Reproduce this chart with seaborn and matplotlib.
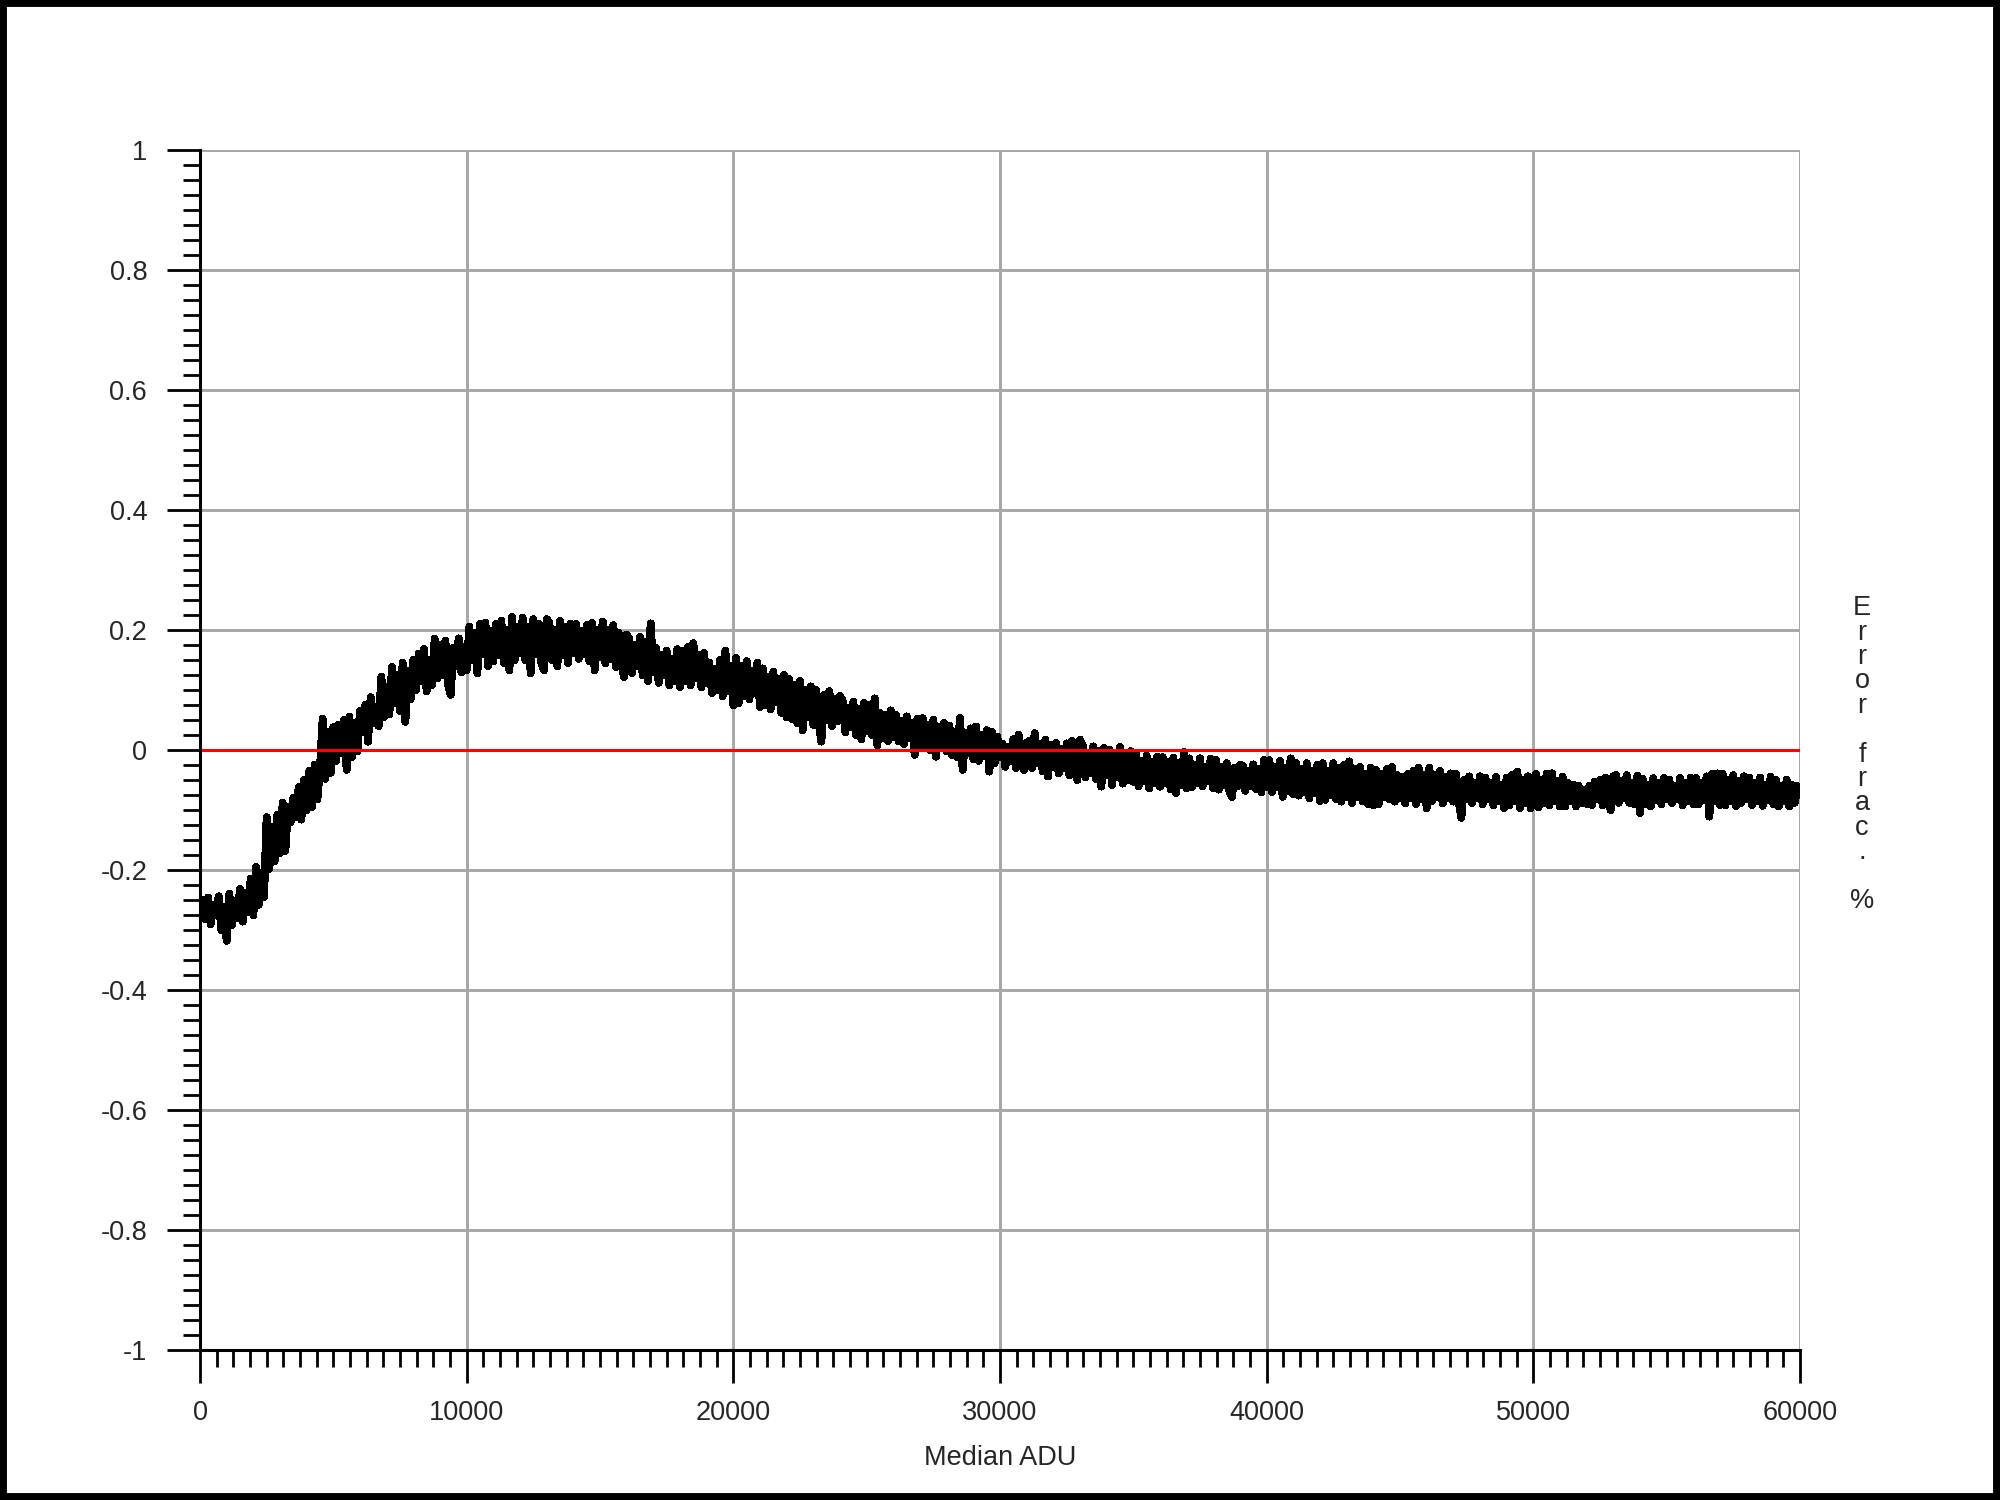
import numpy as np
import pandas as pd
import matplotlib
matplotlib.use("Agg")
import matplotlib.pyplot as plt
import seaborn as sns
from matplotlib.patches import Rectangle
from matplotlib.ticker import MultipleLocator, FixedLocator, FixedFormatter

# --- data (one row = 1000 ADU, samples every 100 ADU) ---
adu_start, adu_step = 100, 100
error_pct = [
    -0.250, -0.282, -0.246, -0.290, -0.258, -0.275, -0.244, -0.300, -0.262, -0.318,
    -0.240, -0.292, -0.252, -0.280, -0.232, -0.286, -0.238, -0.270, -0.215, -0.275,
    -0.195, -0.258, -0.205, -0.245, -0.112, -0.198, -0.128, -0.185, -0.108, -0.172,
    -0.088, -0.168, -0.095, -0.120, -0.080, -0.112, -0.062, -0.116, -0.050, -0.100,
    -0.035, -0.095, -0.025, -0.082, -0.030, 0.052, -0.048, 0.030, -0.038, 0.038,
    -0.018, 0.042, -0.005, 0.050, -0.033, 0.055, -0.012, 0.045, -0.002, 0.065,
    0.030, 0.075, 0.014, 0.088, 0.045, 0.072, 0.040, 0.122, 0.055, 0.105,
    0.060, 0.138, 0.078, 0.125, 0.065, 0.145, 0.047, 0.132, 0.085, 0.150,
    0.100, 0.160, 0.115, 0.168, 0.098, 0.150, 0.108, 0.185, 0.120, 0.175,
    0.125, 0.182, 0.110, 0.092, 0.170, 0.140, 0.186, 0.130, 0.172, 0.133,
    0.205, 0.150, 0.195, 0.128, 0.210, 0.160, 0.212, 0.140, 0.198, 0.148,
    0.210, 0.158, 0.215, 0.145, 0.200, 0.133, 0.222, 0.150, 0.205, 0.162,
    0.220, 0.150, 0.205, 0.128, 0.218, 0.160, 0.210, 0.145, 0.133, 0.218,
    0.212, 0.150, 0.200, 0.140, 0.215, 0.158, 0.205, 0.145, 0.210, 0.162,
    0.210, 0.152, 0.198, 0.160, 0.208, 0.148, 0.212, 0.133, 0.200, 0.155,
    0.214, 0.145, 0.200, 0.152, 0.208, 0.138, 0.195, 0.148, 0.122, 0.192,
    0.185, 0.128, 0.175, 0.140, 0.188, 0.125, 0.180, 0.115, 0.211, 0.130,
    0.170, 0.112, 0.158, 0.125, 0.165, 0.108, 0.152, 0.115, 0.168, 0.105,
    0.165, 0.115, 0.172, 0.108, 0.178, 0.120, 0.158, 0.105, 0.162, 0.112,
    0.145, 0.095, 0.135, 0.100, 0.150, 0.090, 0.165, 0.098, 0.140, 0.075,
    0.153, 0.078, 0.140, 0.090, 0.148, 0.085, 0.132, 0.095, 0.145, 0.072,
    0.136, 0.075, 0.122, 0.068, 0.130, 0.080, 0.118, 0.062, 0.125, 0.055,
    0.118, 0.052, 0.108, 0.045, 0.115, 0.033, 0.100, 0.055, 0.106, 0.042,
    0.100, 0.045, 0.014, 0.092, 0.050, 0.098, 0.040, 0.085, 0.048, 0.090,
    0.082, 0.030, 0.070, 0.038, 0.080, 0.025, 0.068, 0.018, 0.078, 0.032,
    0.075, 0.025, 0.086, 0.008, 0.062, 0.020, 0.058, 0.015, 0.066, 0.022,
    0.058, 0.015, 0.048, 0.010, 0.056, 0.020, 0.045, -0.008, 0.052, 0.008,
    0.053, 0.005, 0.042, 0.000, 0.050, -0.011, 0.038, 0.008, 0.045, -0.002,
    0.040, -0.008, 0.030, -0.012, 0.053, -0.033, 0.028, -0.005, 0.036, -0.015,
    0.039, -0.018, 0.025, -0.010, 0.033, -0.036, 0.030, -0.022, 0.022, -0.012,
    0.010, -0.028, 0.005, -0.018, 0.018, -0.030, 0.025, -0.020, -0.033, 0.012,
    0.015, -0.030, 0.028, -0.022, 0.010, -0.035, 0.017, -0.044, 0.008, -0.028,
    0.012, -0.039, 0.002, -0.030, 0.011, -0.042, 0.015, -0.032, -0.050, 0.017,
    0.008, -0.045, -0.005, -0.038, 0.006, -0.048, -0.002, -0.061, 0.003, -0.042,
    0.000, -0.058, -0.008, -0.045, 0.005, -0.056, -0.010, -0.050, -0.002, -0.053,
    -0.006, -0.060, -0.018, -0.052, -0.010, -0.064, -0.020, -0.055, -0.011, -0.061,
    -0.012, -0.055, -0.020, -0.065, -0.013, -0.072, -0.022, -0.058, -0.003, -0.064,
    -0.014, -0.062, -0.025, -0.055, -0.014, -0.060, -0.028, -0.052, -0.015, -0.064,
    -0.017, -0.066, -0.028, -0.058, -0.022, -0.068, -0.078, -0.030, -0.060, -0.025,
    -0.026, -0.068, -0.035, -0.060, -0.024, -0.065, -0.032, -0.070, -0.017, -0.062,
    -0.017, -0.070, -0.028, -0.062, -0.018, -0.078, -0.030, -0.068, -0.014, -0.074,
    -0.022, -0.076, -0.032, -0.070, -0.022, -0.080, -0.035, -0.072, -0.025, -0.085,
    -0.022, -0.083, -0.035, -0.075, -0.022, -0.082, -0.030, -0.086, -0.025, -0.078,
    -0.019, -0.088, -0.032, -0.078, -0.028, -0.085, -0.040, -0.090, -0.030, -0.092,
    -0.033, -0.090, -0.040, -0.078, -0.032, -0.082, -0.028, -0.086, -0.042, -0.080,
    -0.045, -0.089, -0.040, -0.080, -0.035, -0.090, -0.030, -0.082, -0.042, -0.097,
    -0.030, -0.085, -0.042, -0.078, -0.035, -0.089, -0.045, -0.080, -0.039, -0.086,
    -0.040, -0.085, -0.113, -0.050, -0.082, -0.044, -0.088, -0.055, -0.080, -0.044,
    -0.090, -0.046, -0.082, -0.055, -0.092, -0.045, -0.085, -0.058, -0.097, -0.046,
    -0.092, -0.042, -0.085, -0.036, -0.097, -0.050, -0.088, -0.044, -0.097, -0.055,
    -0.040, -0.095, -0.050, -0.088, -0.040, -0.092, -0.039, -0.085, -0.052, -0.094,
    -0.045, -0.094, -0.055, -0.085, -0.058, -0.094, -0.060, -0.088, -0.066, -0.090,
    -0.060, -0.092, -0.053, -0.082, -0.050, -0.092, -0.046, -0.085, -0.100, -0.044,
    -0.042, -0.088, -0.052, -0.080, -0.042, -0.088, -0.055, -0.090, -0.043, -0.105,
    -0.048, -0.090, -0.058, -0.094, -0.047, -0.084, -0.055, -0.090, -0.047, -0.082,
    -0.050, -0.088, -0.060, -0.082, -0.047, -0.092, -0.055, -0.085, -0.046, -0.090,
    -0.047, -0.090, -0.055, -0.084, -0.044, -0.111, -0.040, -0.085, -0.039, -0.092,
    -0.040, -0.092, -0.050, -0.085, -0.042, -0.093, -0.052, -0.088, -0.044, -0.082,
    -0.046, -0.092, -0.055, -0.085, -0.046, -0.093, -0.058, -0.084, -0.045, -0.090,
    -0.050, -0.094, -0.060, -0.085, -0.050, -0.094, -0.058, -0.088, -0.060, -0.075,
]
median_adu = np.arange(adu_start, adu_start + adu_step * len(error_pct), adu_step)

y_ticks = [-1, -0.8, -0.6, -0.4, -0.2, 0, 0.2, 0.4, 0.6, 0.8, 1]
y_tick_labels = ["-1", "-0.8", "-0.6", "-0.4", "-0.2", "0", "0.2", "0.4", "0.6", "0.8", "1"]
x_ticks = [0, 10000, 20000, 30000, 40000, 50000, 60000]
x_tick_labels = ["0", "10000", "20000", "30000", "40000", "50000", "60000"]

df = pd.DataFrame({"Median ADU": median_adu, "Error": error_pct})

# --- style ---
sns.set_style("white")
plt.rcParams["font.family"] = ["Liberation Sans", "DejaVu Sans"]
plt.rcParams["axes.unicode_minus"] = False

fig = plt.figure(figsize=(20, 15), dpi=100)
ax = fig.add_axes([0.1, 0.1, 0.8, 0.8])

# grid
ax.set_axisbelow(True)
ax.grid(True, which="major", color="#a8a8a8", lw=2.0, antialiased=False)

sns.lineplot(data=df, x="Median ADU", y="Error", ax=ax, color="black", lw=5.0,
             estimator=None, sort=False, zorder=3, antialiased=False)
for ln in ax.get_lines():
    ln.set_solid_capstyle("round")
    ln.set_solid_joinstyle("round")

ax.axhline(0, color="#ff0000", lw=2.0, zorder=4, antialiased=False)

ax.set_xlim(0, 60000)
ax.set_ylim(-1, 1)
ax.xaxis.set_major_locator(FixedLocator(x_ticks))
ax.xaxis.set_major_formatter(FixedFormatter(x_tick_labels))
ax.yaxis.set_major_locator(FixedLocator(y_ticks))
ax.yaxis.set_major_formatter(FixedFormatter(y_tick_labels))
ax.xaxis.set_minor_locator(MultipleLocator(625))
ax.yaxis.set_minor_locator(MultipleLocator(0.025))

for side in ["top", "right"]:
    ax.spines[side].set_visible(False)
for side in ["left", "bottom"]:
    ax.spines[side].set_color("black")
    ax.spines[side].set_linewidth(2.2)
    ax.spines[side].set_zorder(5)

ax.tick_params(which="both", direction="out", bottom=True, left=True,
               color="black", width=2.0)
ax.tick_params(which="major", length=24, labelsize=19.5)
ax.tick_params(axis="y", which="major", pad=14)
ax.tick_params(axis="x", which="major", pad=12)
ax.tick_params(which="minor", length=12)

ax.set_xlabel("Median ADU", fontsize=19.5, labelpad=14)
ax.set_ylabel("")

# stacked right-hand label
fig.text(0.931, 0.497, "E\nr\nr\no\nr\n\nf\nr\na\nc\n.\n\n%", ha="center", va="center",
         fontsize=19.5, linespacing=0.92)

# black frame around the whole picture
fig.patches.append(Rectangle((0, 0), 1, 1, transform=fig.transFigure, fill=False,
                             edgecolor="black", lw=10, zorder=10))

fig.savefig("out.png", dpi=100)
